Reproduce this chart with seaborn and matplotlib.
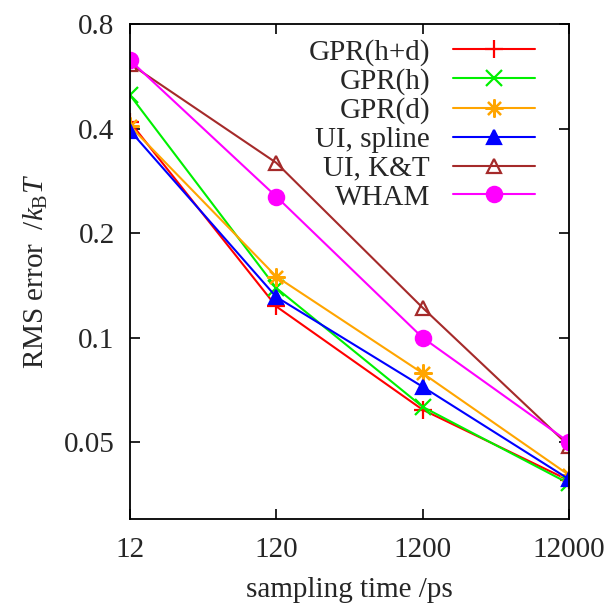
import matplotlib
matplotlib.use('Agg')
import matplotlib.pyplot as plt
from matplotlib.ticker import NullLocator
import seaborn as sns

# sampling times (ps) and RMS errors (k_B T)
times = [12, 120, 1200, 12000]
gpr_hd = [0.418, 0.123, 0.062, 0.0388]
gpr_h = [0.50, 0.139, 0.0632, 0.0380]
gpr_d = [0.407, 0.150, 0.079, 0.0402]
ui_spline = [0.395, 0.131, 0.0722, 0.0391]
ui_kt = [0.615, 0.319, 0.122, 0.0488]
wham = [0.63, 0.255, 0.100, 0.050]

labels = ['GPR(h+d)', 'GPR(h)', 'GPR(d)', 'UI, spline', 'UI, K&T', 'WHAM']
series = [gpr_hd, gpr_h, gpr_d, ui_spline, ui_kt, wham]
colors = ['#ff0000', '#00f000', '#ffa500', '#0000ff', '#a52a2a', '#ff00ff']
markers = ['+', 'x', (8, 2, 0), '^', '^', 'o']
filled = [True, True, True, True, False, True]
sizes = [13, 11, 13, 10, 10, 11]

xticks = [12, 120, 1200, 12000]
yticks = [0.05, 0.1, 0.2, 0.4, 0.8]
ytick_labels = ['0.05', '0.1', '0.2', '0.4', '0.8']

sns.set_style('ticks')
plt.rcParams['font.family'] = ['Liberation Serif', 'DejaVu Serif']
plt.rcParams['mathtext.fontset'] = 'custom'
plt.rcParams['mathtext.rm'] = 'Liberation Serif'
plt.rcParams['mathtext.it'] = 'Liberation Serif:italic'

fig = plt.figure(figsize=(6.13, 6.05), dpi=100)
ax = fig.add_axes([0.212, 0.142, 0.716, 0.818])

for vals, lab, c, m, f, s in zip(series, labels, colors, markers, filled, sizes):
    sns.lineplot(x=times, y=vals, ax=ax, color=c, label=lab, marker=m,
                 markersize=s, linewidth=1.5,
                 markerfacecolor=c if f else 'none',
                 markeredgecolor=c, markeredgewidth=1.6)

ax.set_xscale('log')
ax.set_yscale('log')
ax.set_xlim(12, 12000)
ax.set_ylim(0.03, 0.8)
ax.set_xticks(xticks)
ax.set_xticklabels([str(t) for t in xticks])
ax.set_yticks(yticks)
ax.set_yticklabels(ytick_labels)
ax.xaxis.set_minor_locator(NullLocator())
ax.yaxis.set_minor_locator(NullLocator())
ax.tick_params(direction='in', top=True, right=True, length=7, width=1.2,
               labelsize=21, color='black')
ax.tick_params(axis='x', pad=13)
ax.tick_params(axis='y', pad=11)
for sp in ax.spines.values():
    sp.set_linewidth(1.3)
    sp.set_color('black')

ax.set_xlabel('sampling time /ps', fontsize=21, labelpad=10)
ax.set_ylabel('RMS error  /$k_{\\mathrm{B}}T$', fontsize=21, labelpad=10)

ax.legend(loc='upper right', frameon=False, markerfirst=False, fontsize=21,
          handlelength=2.8, labelspacing=0.08, handletextpad=0.8,
          borderaxespad=0.1, bbox_to_anchor=(0.956, 1.0))

fig.savefig('out.png', dpi=100)
